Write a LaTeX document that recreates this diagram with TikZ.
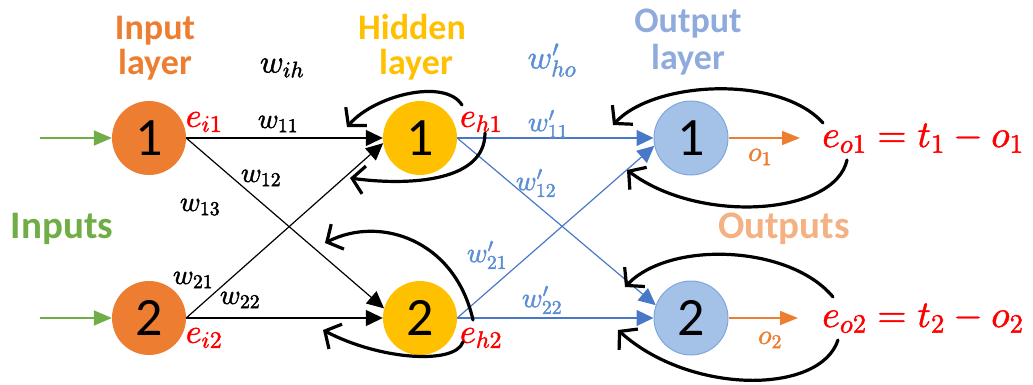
\documentclass[tikz,border=0pt]{standalone}
\usepackage[no-math]{fontspec}
\setmainfont{Carlito}
\usetikzlibrary{arrows.meta}
% scalable math fonts at any size
\DeclareFontShape{OML}{cmm}{m}{it}{<->cmmi10}{}
\DeclareFontShape{OMS}{cmsy}{m}{n}{<->cmsy10}{}
\DeclareFontShape{OT1}{cmr}{m}{n}{<->cmr10}{}
% slightly heavier glyphs: fill and stroke the outlines
\newcommand\heavymath[1]{\special{pdf:literal direct 2 Tr 0.45 w}#1\special{pdf:literal direct 0 Tr}}

\definecolor{inorange}{HTML}{ED7D31}
\definecolor{hidgold}{HTML}{FFC000}
\definecolor{outfill}{HTML}{A4C2E8}
\definecolor{outborder}{HTML}{7FA6DC}
\definecolor{titleblue}{HTML}{8FAADC}
\definecolor{wblue}{HTML}{4A78C8}
\definecolor{wtext}{HTML}{5B8FD5}
\definecolor{outlabel}{HTML}{F4B183}
\definecolor{ingreen}{HTML}{70AD47}
\definecolor{errred}{HTML}{FF0000}

\tikzset{
  neuron/.style={circle, minimum size=74pt, inner sep=0pt,
    font=\fontsize{54}{54}\selectfont},
  layertitle/.style={anchor=base, font=\bfseries\fontsize{36}{40}\selectfont},
  sidetitle/.style={anchor=base, font=\bfseries\fontsize{39}{42}\selectfont},
  wlabel/.style={inner sep=0pt, font=\fontsize{28}{28}\selectfont},
  wplabel/.style={wlabel, text=wtext},
  errlabel/.style={inner sep=0pt, text=errred, font=\fontsize{34}{34}\selectfont},
  olabel/.style={inner sep=0pt, text=inorange, font=\fontsize{28}{28}\selectfont},
  fwdblack/.style={draw=black, line width=1.2pt, -{Triangle[length=17pt,width=16pt]}},
  fwdblue/.style={draw=wblue, line width=1.2pt, -{Triangle[length=17pt,width=16pt]}},
  feedback/.style={draw=black, line width=3.2pt, line cap=round,
    -{Straight Barb[length=12pt,width=28pt]}},
  inarrow/.style={draw=ingreen, line width=1.5pt, -{Triangle[length=18pt,width=15pt]}},
  outarrow/.style={draw=inorange, line width=1.5pt, -{Triangle[length=18pt,width=14pt]}},
}

\begin{document}
\begin{tikzpicture}[x=1pt, y=-1pt]
\useasboundingbox (0,0) rectangle (1033,385);

% neurons
\node[neuron, fill=inorange] (I1) at (149,138) {1};
\node[neuron, fill=inorange] (I2) at (149,318) {2};
\node[neuron, fill=hidgold] (H1) at (420,138) {1};
\node[neuron, fill=hidgold] (H2) at (420,318) {2};
\node[neuron, fill=outfill, draw=outborder, line width=1pt] (O1) at (691,138) {1};
\node[neuron, fill=outfill, draw=outborder, line width=1pt] (O2) at (691,318) {2};

% layer titles
\node[layertitle, text=inorange] (tIn1) at (155,40) {Input};
\node[layertitle, text=inorange] (tIn2) at (155,75) {layer};
\node[layertitle, text=hidgold] (tHid1) at (412,40) {Hidden};
\node[layertitle, text=hidgold] (tHid2) at (416,75) {layer};
\node[layertitle, text=titleblue] (tOut1) at (688,33) {Output};
\node[layertitle, text=titleblue] (tOut2) at (688,70) {layer};
\node[sidetitle, text=ingreen] (tInputs) at (62,238) {Inputs};
\node[sidetitle, text=outlabel] (tOutputs) at (784,238) {Outputs};

% inputs and outputs
\coordinate (src1) at (40,138);
\coordinate (src2) at (40,318);
\coordinate (dst1) at (800,138);
\coordinate (dst2) at (798,318);
\draw[inarrow] (src1) -- (I1.west);
\draw[inarrow] (src2) -- (I2.west);
\draw[outarrow] (O1.east) -- (dst1);
\draw[outarrow] (O2.east) -- (dst2);

% input -> hidden weights
\draw[fwdblack] (I1.east) -- (H1.west);
\draw[fwdblack] (I1.east) -- (H2.165);
\draw[fwdblack] (I2.east) -- (H1.188);
\draw[fwdblack] (I2.east) -- (H2.west);

% hidden -> output weights
\draw[fwdblue] (H1.east) -- (O1.west);
\draw[fwdblue] (H1.east) -- (O2.160);
\draw[fwdblue] (H2.east) -- (O1.192);
\draw[fwdblue] (H2.east) -- (O2.west);

% weight labels
\node[wlabel] (wih) at (282,68) {\fontsize{32}{32}\selectfont\heavymath{$w_{ih}$}};
\node[wlabel] (w11) at (278,124) {\heavymath{$w_{11}$}};
\node[wlabel] (w12) at (261,178) {\heavymath{$w_{12}$}};
\node[wlabel] (w13) at (200,207) {\heavymath{$w_{13}$}};
\node[wlabel] (w21) at (193,280) {\heavymath{$w_{21}$}};
\node[wlabel] (w22) at (240,300) {\heavymath{$w_{22}$}};
\node[wplabel] (who) at (552,60) {\fontsize{33}{33}\selectfont\heavymath{$w'_{ho}$}};
\node[wplabel] (v11) at (548,124) {\heavymath{$w'_{11}$}};
\node[wplabel] (v12) at (536,183) {\heavymath{$w'_{12}$}};
\node[wplabel] (v21) at (487,255) {\heavymath{$w'_{21}$}};
\node[wplabel] (v22) at (542,300) {\heavymath{$w'_{22}$}};

% error labels
\node[errlabel] (ei1) at (204,122) {\heavymath{$e_{i1}$}};
\node[errlabel] (ei2) at (204,338) {\heavymath{$e_{i2}$}};
\node[errlabel] (eh1) at (481,122) {\heavymath{$e_{h1}$}};
\node[errlabel] (eh2) at (481,338) {\heavymath{$e_{h2}$}};
\node[errlabel, anchor=base west, font=\fontsize{38}{38}\selectfont] (eo1) at (822,147) {\heavymath{$e_{o1}=t_1-o_1$}};
\node[errlabel, anchor=base west, font=\fontsize{38}{38}\selectfont] (eo2) at (822,327) {\heavymath{$e_{o2}=t_2-o_2$}};

% output values
\node[olabel] (o1) at (760,157) {\heavymath{$o_1$}};
\node[olabel] (o2) at (770,340) {\heavymath{$o_2$}};

% back-propagated errors
\coordinate (h1ua) at (462,105);  \coordinate (h1ub) at (347,127);
\coordinate (h1la) at (485,133);  \coordinate (h1lb) at (350,178);
\coordinate (h2ua) at (473,320);  \coordinate (h2ub) at (325,243);
\coordinate (h2la) at (463,342);  \coordinate (h2lb) at (323,330);
\coordinate (o1ua) at (823,123);  \coordinate (o1ub) at (613,125);
\coordinate (o1la) at (847,160);  \coordinate (o1lb) at (627,170);
\coordinate (o2ua) at (833,297);  \coordinate (o2ub) at (625,287);
\coordinate (o2la) at (838,340);  \coordinate (o2lb) at (618,330);

\draw[feedback] (h1ua) .. controls (445,78) and (375,95) .. (h1ub);
\draw[feedback] (h1la) .. controls (485,185) and (400,185) .. (h1lb);
\draw[feedback] (h2ua) .. controls (455,240) and (380,215) .. (h2ub);
\draw[feedback] (h2la) .. controls (455,365) and (380,360) .. (h2lb);
\draw[feedback] (o1ua) .. controls (780,75) and (655,80) .. (o1ub);
\draw[feedback] (o1la) .. controls (835,215) and (700,225) .. (o1lb);
\draw[feedback] (o2ua) .. controls (790,245) and (670,240) .. (o2ub);
\draw[feedback] (o2la) .. controls (820,395) and (690,395) .. (o2lb);
\end{tikzpicture}
\end{document}
